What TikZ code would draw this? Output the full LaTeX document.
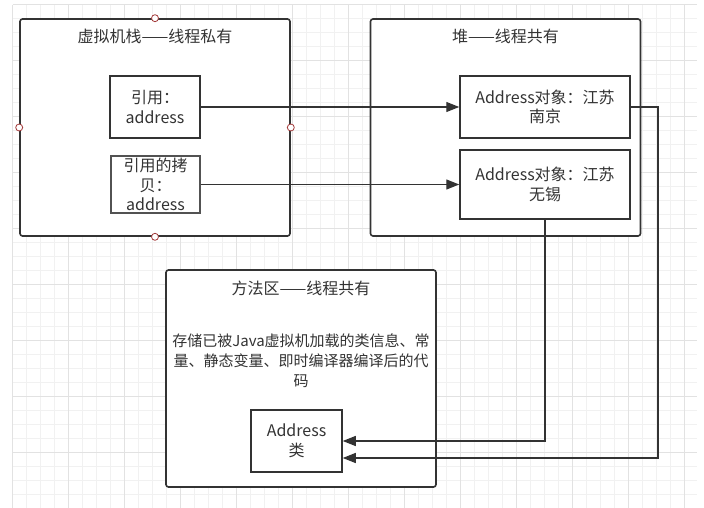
\documentclass[tikz,border=0pt]{standalone}
\usepackage{fontspec}
\setmainfont{Noto Sans CJK SC}
\usepackage{xcolor}
\usetikzlibrary{arrows.meta}
\definecolor{gridminor}{HTML}{F1F1F1}
\definecolor{gridmajor}{HTML}{E2E2E2}
\definecolor{ink}{HTML}{333333}
\definecolor{portred}{HTML}{A33A3A}

\begin{document}
\begin{tikzpicture}[x=1pt, y=-1pt, >={Triangle[length=13pt,width=10pt]},
    region/.style={draw=ink, line width=1.6pt, rounded corners=2.5pt, fill=white, minimum width=270pt, minimum height=217pt},
    cell/.style={draw=ink, line width=1.5pt, fill=white, align=center, inner sep=0pt, font=\fontsize{16}{19.5}\selectfont, text=ink},
    hint/.style={align=center, inner sep=0pt, font=\fontsize{15}{20}\selectfont, text=ink},
    port/.style={circle, draw=portred, fill=white, inner sep=0pt, minimum size=7pt, line width=0.8pt},
    link/.style={->, draw=ink, line width=1.4pt}]
    \useasboundingbox (0,0) rectangle (704,508);
    % background grid
    \begin{scope}[shift={(12.7,4.7)}]
      \draw[gridminor, line width=0.8pt] (0,0) grid[step=14pt] (684,504);
      \draw[gridmajor, line width=0.8pt] (0,0) grid[step=56pt] (684,504);
    \end{scope}

    \node[region] (stack) at (155,127.5) {};
    \node[region] (heap) at (505.5,127.5) {};
    \node[region] (method) at (301,378.5) {};
    \node[hint, font=\fontsize{16}{20}\selectfont] (stacktitle) at (155,36) {虚拟机栈——线程私有};
    \node[hint, font=\fontsize{16}{20}\selectfont] (heaptitle) at (505.5,36) {堆——线程共有};
    \node[hint, font=\fontsize{16}{20}\selectfont] (methodtitle) at (301,288) {方法区——线程共有};
    \node[hint] (methodnote) at (301,361) {存储已被Java虚拟机加载的类信息、常\\量、静态变量、即时编译器编译后的代\\码};

    \node[cell, minimum width=90pt, minimum height=62pt] (ref) at (155,107) {引用：\\address};
    \node[cell, draw=ink!85, line width=1.2pt, minimum width=89pt, minimum height=57pt] (copy) at (155.5,184.5) {引用的拷\\贝：\\address};
    \node[cell, minimum width=170pt, minimum height=62pt] (obj1) at (545,107) {Address对象：江苏\\南京};
    \node[cell, minimum width=170pt, minimum height=69pt] (obj2) at (545,184.5) {Address对象：江苏\\无锡};
    \node[cell, minimum width=91pt, minimum height=62pt] (cls) at (296.5,441) {Address\\类};

    \coordinate (bend) at (658,458);
    \draw[link] (ref) -- (obj1);
    \draw[link] (copy) -- (obj2);
    \draw[link] (obj2.south) |- (cls.east);
    \draw[link] (obj1.east) -| (bend) -- (bend -| cls.east);

    \node[port] (pn) at (stack.north) {};
    \node[port] (pw) at (stack.west) {};
    \node[port] (pe) at (stack.east) {};
    \node[port] (ps) at (stack.south) {};
\end{tikzpicture}
\end{document}
